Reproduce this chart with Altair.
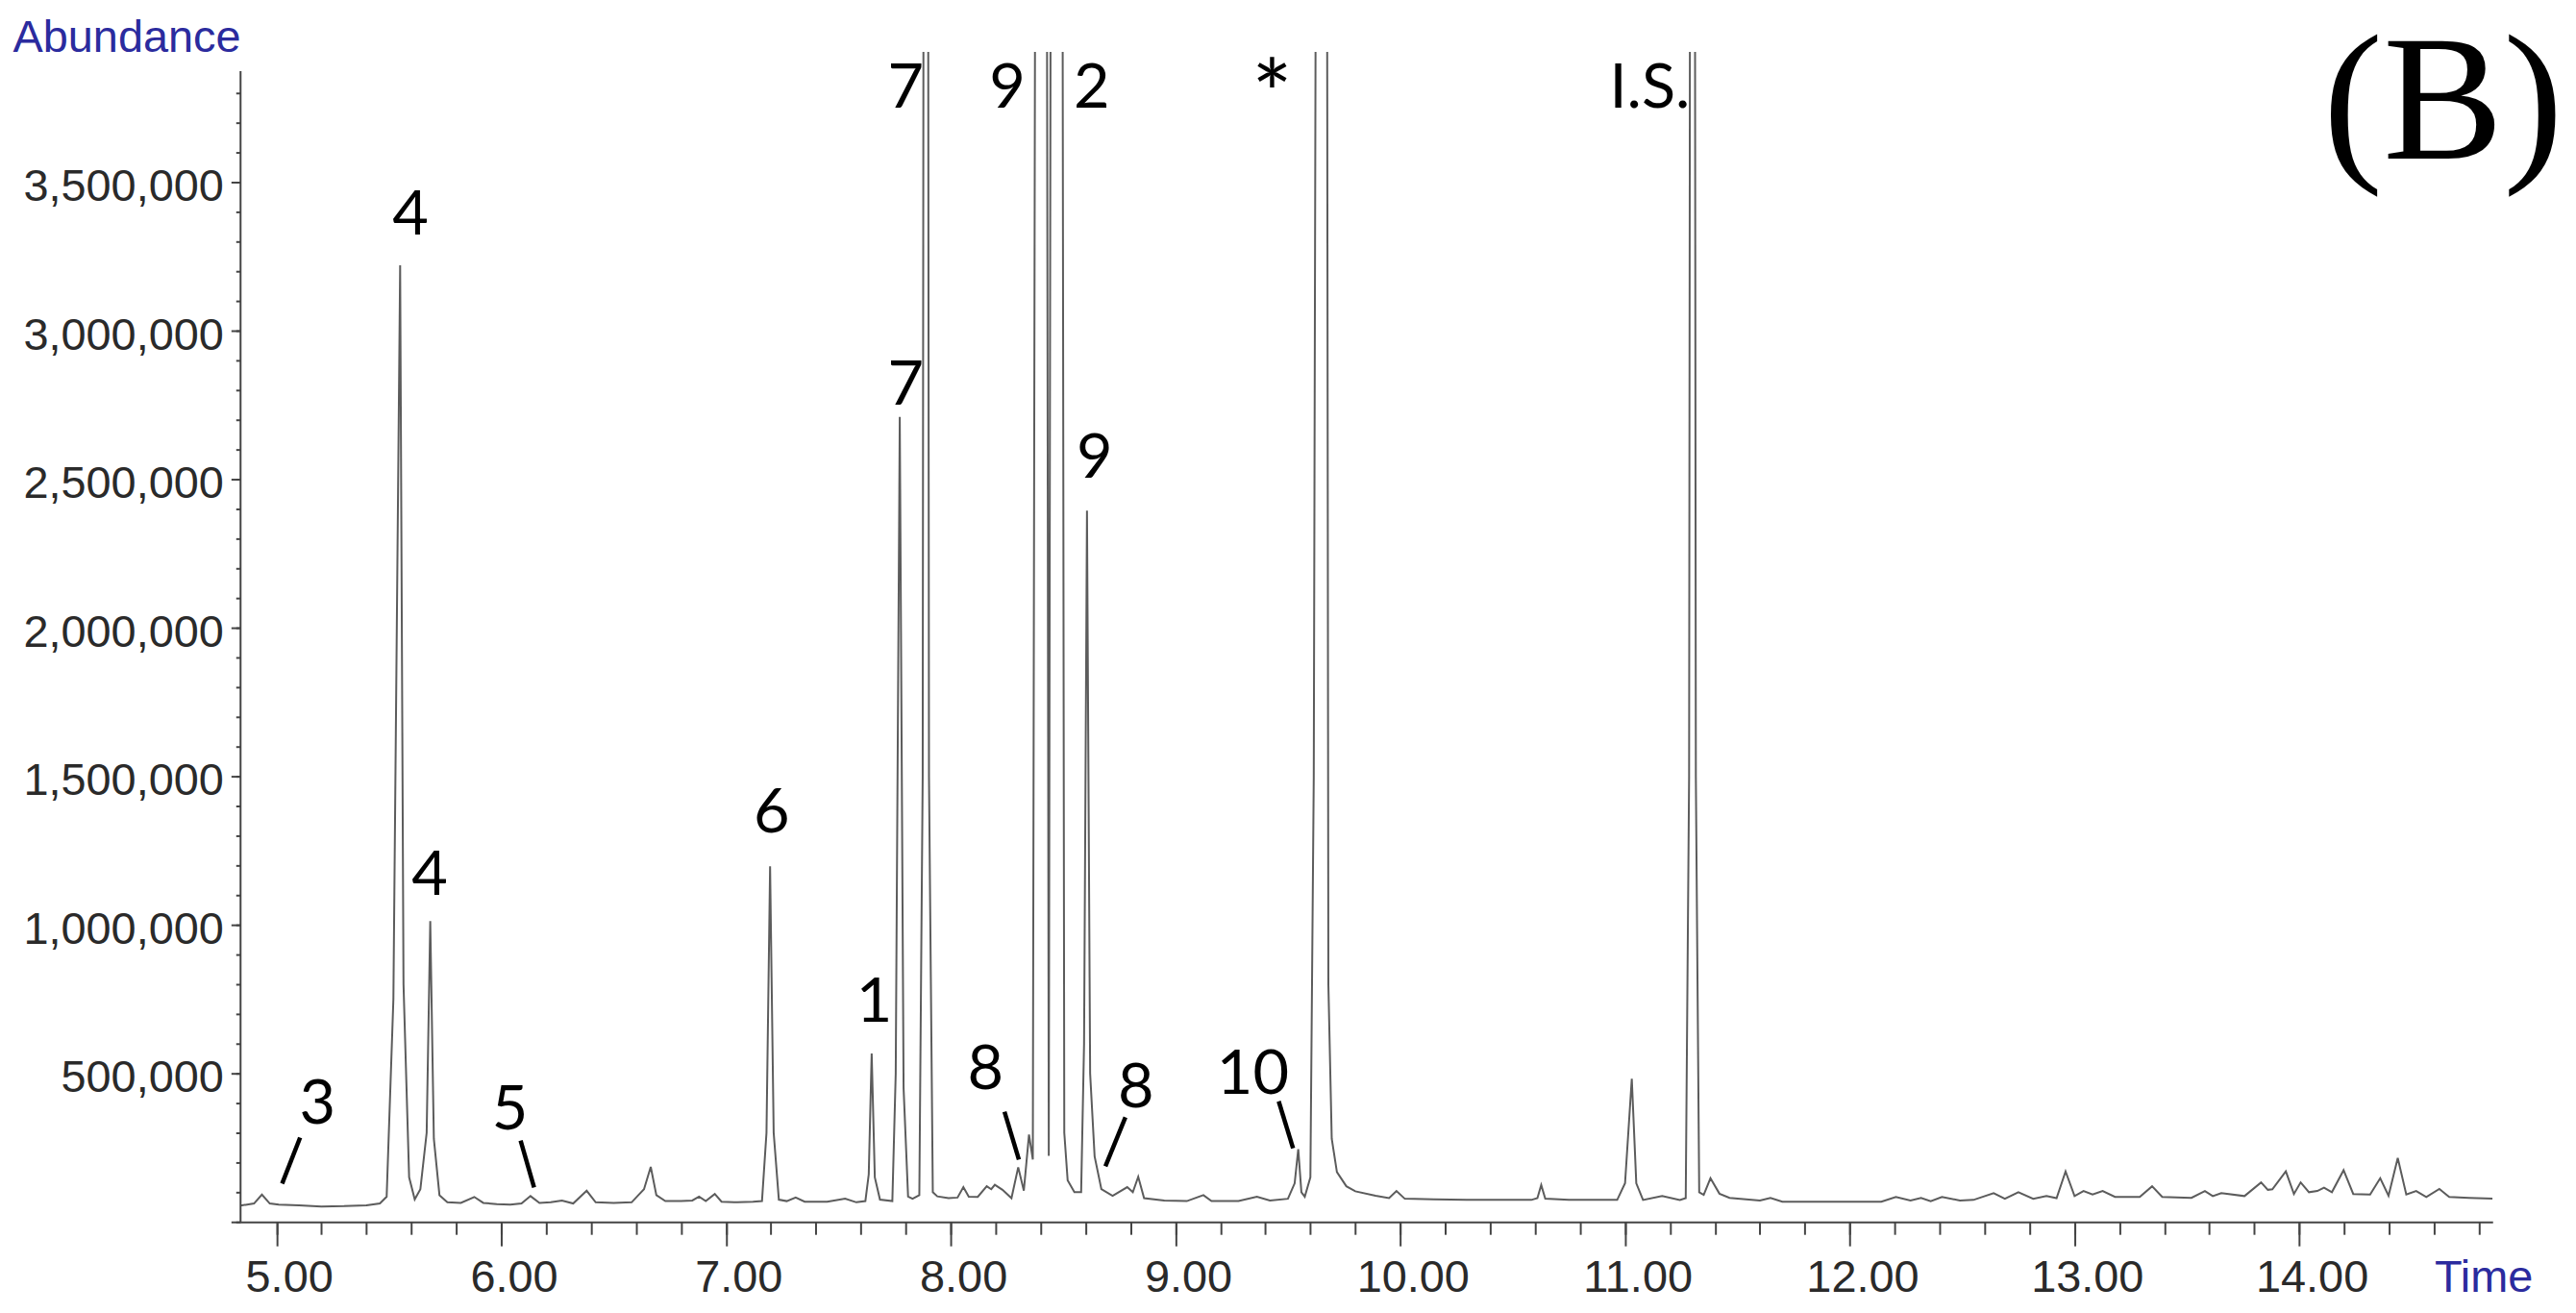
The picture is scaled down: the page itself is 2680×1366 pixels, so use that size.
import altair as alt
import pandas as pd

# ---------------- trace (retention time in min, abundance) ----------------
time_min = [
    4.84, 4.90, 4.935, 4.97, 5.01, 5.10, 5.20, 5.30, 5.40, 5.46,
    5.49, 5.52, 5.55, 5.565, 5.59, 5.615, 5.64, 5.668, 5.684, 5.70,
    5.725, 5.76, 5.82, 5.88, 5.92, 5.98, 6.04, 6.09, 6.13, 6.17,
    6.22, 6.27, 6.32, 6.38, 6.42, 6.50, 6.58, 6.61, 6.635, 6.665,
    6.69, 6.73, 6.80,
    6.85, 6.88, 6.91, 6.95, 6.98, 7.05, 7.12, 7.16, 7.18, 7.196,
    7.212, 7.235, 7.27, 7.31, 7.35, 7.45, 7.53, 7.58, 7.62, 7.635,
    7.648, 7.662, 7.685, 7.74, 7.755, 7.773, 7.79, 7.81, 7.83, 7.86,
    7.875, 7.889, 7.903, 7.92, 7.94, 7.99, 8.03, 8.056, 8.08, 8.12,
    8.16, 8.18, 8.196, 8.23, 8.27, 8.30, 8.325, 8.348, 8.365, 8.385,
    8.42, 8.436, 8.452, 8.49, 8.505, 8.52, 8.55, 8.58, 8.593, 8.606,
    8.62, 8.64, 8.67, 8.72, 8.785, 8.81, 8.834, 8.86, 8.95, 9.05,
    9.124, 9.16, 9.28, 9.362, 9.42, 9.50, 9.53, 9.546, 9.56, 9.575,
    9.60, 9.615, 9.636, 9.668, 9.68, 9.695, 9.718, 9.76, 9.80, 9.89,
    9.95, 9.983, 10.02, 10.15, 10.30, 10.45, 10.583, 10.61, 10.627, 10.645,
    10.75, 10.965, 11.00, 11.03, 11.05, 11.08, 11.165, 11.244, 11.27, 11.285,
    11.30, 11.315, 11.33, 11.35, 11.38, 11.42, 11.465, 11.60, 11.647, 11.70,
    11.90, 12.14, 12.205, 12.27, 12.317, 12.36, 12.41, 12.49, 12.55, 12.64,
    12.69, 12.75, 12.816, 12.875, 12.92, 12.96, 13.00, 13.04, 13.08, 13.125,
    13.18, 13.29, 13.345, 13.39, 13.52, 13.58, 13.615, 13.653, 13.756, 13.83,
    13.86, 13.88, 13.94, 13.976, 14.006, 14.043, 14.08, 14.11, 14.145, 14.197,
    14.24, 14.315, 14.36, 14.397, 14.438, 14.476, 14.52, 14.565, 14.623, 14.667,
    14.755, 14.86,
]
abundance = [
    55000, 62000, 92000, 62000, 58000, 56000, 52000, 53000, 56000, 62000,
    85000, 750000, 3220000, 800000, 150000, 76000, 110000, 300000, 1013000, 280000,
    90000, 66000, 64000, 84000, 64000, 60000, 58000, 62000, 87000, 64000,
    66000, 72000, 62000, 105000, 66000, 64000, 66000, 90000, 110000, 185000,
    90000, 70000, 70000,
    72000, 85000, 70000, 94000, 68000, 66000, 68000, 70000, 300000, 1197000,
    300000, 75000, 70000, 82000, 68000, 68000, 78000, 66000, 70000, 160000,
    567000, 150000, 75000, 70000, 500000, 2710000, 450000, 85000, 78000, 90000,
    1500000, 12000000, 1500000, 100000, 86000, 80000, 82000, 117000, 85000, 84000,
    120000, 110000, 125000, 108000, 80000, 184000, 105000, 294000, 210000, 8000000,
    8000000, 222000, 8000000, 8000000, 300000, 140000, 100000, 100000, 600000, 2394000,
    500000, 220000, 110000, 88000, 117000, 100000, 152000, 80000, 72000, 70000,
    90000, 70000, 70000, 85000, 72000, 78000, 130000, 245000, 100000, 85000,
    150000, 1500000, 8000000, 8000000, 800000, 280000, 168000, 120000, 103000, 88000,
    80000, 104000, 78000, 76000, 74000, 74000, 74000, 80000, 124000, 78000,
    74000, 74000, 130000, 482000, 130000, 74000, 87000, 74000, 80000, 1500000,
    12000000, 1500000, 100000, 91000, 147000, 95000, 81000, 72000, 81000, 68000,
    68000, 68000, 84000, 72000, 81000, 70000, 84000, 72000, 74000, 97000,
    78000, 100000, 78000, 87000, 80000, 170000, 87000, 104000, 92000, 104000,
    84000, 84000, 120000, 84000, 81000, 104000, 87000, 97000, 87000, 133000,
    108000, 110000, 170000, 94000, 133000, 100000, 104000, 115000, 100000, 174000,
    94000, 92000, 147000, 88000, 215000, 92000, 104000, 84000, 111000, 84000,
    81000, 78000,
]
assert len(time_min) == len(abundance)

# ---------------- peak labels ----------------
label_text = ["3", "4", "4", "5", "6", "1", "7", "7", "8", "9", "9", "2", "8", "10", "I.S."]
label_time = [5.182, 5.596, 5.681, 6.039, 7.203, 7.659, 7.80, 7.80, 8.154, 8.252, 8.640, 8.627, 8.824, 9.344, 11.110]
label_abund = [332000, 3323000, 1100000, 310000, 1310000, 674000, 2752000, 3752000, 448000, 3752000, 2506000, 3752000, 387000, 432000, 3752000]

star_text = ["*"]
star_time = [9.430]
star_abund = [3681000]

# leader lines (from label towards peak)
leader_t1 = [5.105, 6.086, 8.239, 8.777, 9.459]
leader_v1 = [284000, 274000, 371000, 352000, 406000]
leader_t2 = [5.025, 6.146, 8.303, 8.688, 9.523]
leader_v2 = [129000, 116000, 210000, 187000, 248000]

# panel tag
tag_text = ["(B)"]
tag_time = [15.174]
tag_abund = [3581000]

# axes
X_MIN, X_MAX = 4.84, 14.86
Y_MAX = 3939000
Y_AXIS_TOP = 3874000
x_major_ticks = [5, 6, 7, 8, 9, 10, 11, 12, 13, 14]
x_minor_ticks = [round(5.0 + 0.2 * i, 1) for i in range(50)]
y_major_ticks = list(range(0, 3500001, 500000))
y_minor_ticks = list(range(0, 3800001, 100000))

AXIS_COLOR = "#444444"
TRACE_COLOR = "#5c5c5c"
BLUE = "#2b2b9e"
LABEL_COLOR = "#2a2a2a"

trace = pd.DataFrame({"t": time_min, "v": abundance})
labels = pd.DataFrame({"t": label_time, "v": label_abund, "txt": label_text})
star = pd.DataFrame({"t": star_time, "v": star_abund, "txt": star_text})
leaders = pd.DataFrame({"t": leader_t1, "v": leader_v1, "t2": leader_t2, "v2": leader_v2})
tag = pd.DataFrame({"t": tag_time, "v": tag_abund, "txt": tag_text})
yline = pd.DataFrame({"t": [X_MIN], "v": [0], "v2": [Y_AXIS_TOP]})

xs = alt.Scale(domain=[X_MIN, X_MAX], nice=False, zero=False)
ys = alt.Scale(domain=[0, Y_MAX], nice=False)

x_axis_major = alt.Axis(
    orient="bottom",
    values=x_major_ticks,
    format=".2f",
    tickSize=25, tickWidth=2, tickColor=AXIS_COLOR,
    domain=True, domainColor=AXIS_COLOR, domainWidth=2,
    grid=False, labelFlush=False, labelOverlap=False, labelLimit=400,
    labelFont="Liberation Sans", labelFontSize=47, labelColor=LABEL_COLOR,
    labelBaseline="alphabetic", labelPadding=47, labelOffset=13,
    title="Time", titleX=2289, titleY=72, titleAlign="left", titleBaseline="alphabetic",
    titleAngle=0, titleFont="Liberation Sans", titleFontSize=47,
    titleFontWeight="normal", titleColor=BLUE,
)
y_axis_major = alt.Axis(
    orient="left",
    values=y_major_ticks,
    labelExpr="datum.value > 0 ? format(datum.value, ',') : ''",
    tickSize=10, tickWidth=2, tickColor=AXIS_COLOR,
    domain=False, grid=False, labelOverlap=False, labelFlush=False, labelLimit=400,
    labelFont="Liberation Sans", labelFontSize=47, labelColor=LABEL_COLOR,
    labelPadding=8, labelOffset=5,
    title="Abundance", titleX=-238, titleY=0, titleAlign="left", titleBaseline="alphabetic",
    titleAngle=0, titleFont="Liberation Sans", titleFontSize=47,
    titleFontWeight="normal", titleColor=BLUE, titleLimit=600,
)
x_axis_minor = alt.Axis(
    orient="bottom", values=x_minor_ticks, labels=False, domain=False, grid=False,
    tickSize=13, tickWidth=2, tickColor=AXIS_COLOR, title=None,
)
y_axis_minor = alt.Axis(
    orient="left", values=y_minor_ticks, labels=False, domain=False, grid=False,
    tickSize=5, tickWidth=2, tickColor=AXIS_COLOR, title=None,
)

line = alt.Chart(trace).mark_line(clip=True, color=TRACE_COLOR, strokeWidth=2).encode(
    x=alt.X("t:Q", scale=xs, axis=x_axis_major),
    y=alt.Y("v:Q", scale=ys, axis=y_axis_major),
)

y_axis_line = alt.Chart(yline).mark_rule(color=AXIS_COLOR, strokeWidth=2).encode(
    x=alt.X("t:Q", scale=xs, axis=x_axis_minor),
    y=alt.Y("v:Q", scale=ys, axis=y_axis_minor),
    y2="v2:Q",
)

txt = alt.Chart(labels).mark_text(
    font="Lato", fontSize=65, align="center", baseline="alphabetic", color="black"
).encode(
    x=alt.X("t:Q", scale=xs, axis=None),
    y=alt.Y("v:Q", scale=ys, axis=None),
    text="txt:N",
)

star_mark = alt.Chart(star).mark_text(
    font="Lato", fontSize=100, align="center", baseline="alphabetic", color="black"
).encode(
    x=alt.X("t:Q", scale=xs, axis=None),
    y=alt.Y("v:Q", scale=ys, axis=None),
    text="txt:N",
)

lead = alt.Chart(leaders).mark_rule(color="black", strokeWidth=4.5).encode(
    x=alt.X("t:Q", scale=xs, axis=None),
    y=alt.Y("v:Q", scale=ys, axis=None),
    x2="t2:Q",
    y2="v2:Q",
)

tag_mark = alt.Chart(tag).mark_text(
    font="Liberation Serif", fontSize=188, align="right", baseline="alphabetic", color="black"
).encode(
    x=alt.X("t:Q", scale=xs, axis=None),
    y=alt.Y("v:Q", scale=ys, axis=None),
    text="txt:N",
)

chart = alt.layer(line, y_axis_line, lead, txt, star_mark, tag_mark).resolve_axis(
    x="independent", y="independent"
).properties(
    width=2350,
    height=1221,
    padding={"left": 243, "top": 44, "right": 79, "bottom": 80},
    autosize=alt.AutoSizeParams(type="none"),
    background="white",
).configure_view(stroke=None)

chart.save("out.html", embed_options={"renderer": "svg", "actions": False})
